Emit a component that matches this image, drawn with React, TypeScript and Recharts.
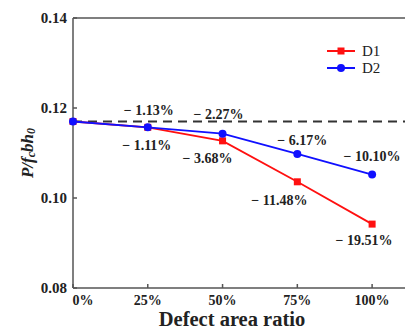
import { LineChart, Line, XAxis, YAxis, ReferenceLine, Legend, LabelList, Label } from "recharts";

const ratios = [0, 25, 50, 75, 100];
const d1 = [0.117, 0.1157, 0.1127, 0.1036, 0.0942];
const d2 = [0.117, 0.1157, 0.1143, 0.1098, 0.1052];
const d1Drop = ["", "− 1.11%", "− 3.68%", "− 11.48%", "− 19.51%"];
const d2Drop = ["", "− 1.13%", "− 2.27%", "− 6.17%", "− 10.10%"];
const yTicks = [0.08, 0.1, 0.12, 0.14];
const refLevel = 0.117;

const data = ratios.map((r, i) => ({ ratio: r, D1: d1[i], D2: d2[i], D1Label: d1Drop[i], D2Label: d2Drop[i] }));

// label nudges relative to the marker (dx, dy)
const d1Nudge = [[0, 0], [-1, 18], [-15, 18], [-18, 19], [-8, 16]];
const d2Nudge = [[0, 0], [1, -17], [-4, -19], [5, -13], [0, -18]];

const FONT = "Liberation Serif";
const RED = "#ff1010";
const BLUE = "#1010ff";
const AXIS = "#555";

const dropLabel = (nudge: number[][]) => (props: any) => {
  const { x, y, value, index } = props;
  if (!value) return null;
  const [dx, dy] = nudge[index] || [0, 0];
  return (
    <text x={x + dx} y={y + dy} textAnchor="middle" dominantBaseline="central" style={{ fontFamily: FONT, fontWeight: "bold", fontSize: 14 }} fill="#222">
      {value}
    </text>
  );
};

const Square = (props: any) => {
  const { cx, cy, index } = props;
  return <rect key={`sq-${index}`} x={cx - 3.5} y={cy - 3.5} width={7} height={7} fill={RED} />;
};

const XTick = (props: any) => {
  const { x, y, payload, index } = props;
  return (
    <text x={x + (index === 0 ? 10 : 0)} y={y} dy="0.71em" textAnchor="middle" style={{ fontFamily: FONT, fontWeight: "bold", fontSize: 14 }} fill="#222">
      {`${payload.value}%`}
    </text>
  );
};

const renderLegend = () => (
  <svg width={80} height={36} style={{ fontFamily: FONT, fontSize: 15 }}>
    <line x1={5} x2={33} y1={9} y2={9} stroke={RED} strokeWidth={2} />
    <rect x={15.5} y={5.5} width={7} height={7} fill={RED} />
    <text x={40} y={9} dominantBaseline="central" fill="#222">D1</text>
    <line x1={5} x2={33} y1={26} y2={26} stroke={BLUE} strokeWidth={2} />
    <circle cx={19} cy={26} r={4} fill={BLUE} />
    <text x={40} y={26} dominantBaseline="central" fill="#222">D2</text>
  </svg>
);

export default function App() {
  return (
    <div style={{ position: "absolute", left: 0, top: 0, width: 405, height: 334, overflow: "hidden", background: "#fff", fontFamily: FONT }}>
      <LineChart width={420} height={334} data={data} margin={{ top: 18, right: 12, bottom: 0, left: 0 }} style={{ fontFamily: FONT }}>
        <XAxis
          dataKey="ratio"
          type="number"
          domain={[0, 112]}
          ticks={ratios}
          height={46}
          tickSize={-4}
          tickMargin={11}
          tick={<XTick />}
          stroke={AXIS}
          strokeWidth={1.5}
        >
          <Label
            content={(p: any) => (
              <text x={p.viewBox.x + 159} y={p.viewBox.y + 38} textAnchor="middle" style={{ fontFamily: FONT, fontWeight: "bold", fontSize: 20.5 }} fill="#222">
                Defect area ratio
              </text>
            )}
          />
        </XAxis>
        <YAxis
          domain={[0.08, 0.14]}
          ticks={yTicks}
          width={73}
          tickSize={-4}
          tickMargin={10}
          tickFormatter={(v: number) => v.toFixed(2)}
          tick={{ style: { fontFamily: FONT, fontWeight: "bold", fontSize: 15 }, fill: "#222" }}
          stroke={AXIS}
          strokeWidth={1.5}
        >
          <Label
            content={(p: any) => {
              const cx = p.viewBox.x + 27;
              const cy = p.viewBox.y + p.viewBox.height / 2;
              return (
                <text x={cx} y={cy} transform={`rotate(-90, ${cx}, ${cy})`} textAnchor="middle" dominantBaseline="central" style={{ fontFamily: FONT, fontStyle: "italic", fontWeight: "bold", fontSize: 17 }} fill="#222">
                  P/f<tspan dy={4} fontSize={12}>c</tspan>
                  <tspan dy={-4}>bh</tspan>
                  <tspan dy={4} fontSize={12}>0</tspan>
                </text>
              );
            }}
          />
        </YAxis>
        <ReferenceLine y={0.14} stroke={AXIS} strokeWidth={1.5} />
        <ReferenceLine y={refLevel} stroke="#333" strokeWidth={2} strokeDasharray="9 6" />
        <Legend
          layout="vertical"
          align="center"
          verticalAlign="middle"
          content={renderLegend}
          wrapperStyle={{ top: 42, left: 322, width: 80 }}
        />
        <Line dataKey="D1" stroke={RED} strokeWidth={1.8} dot={<Square />} isAnimationActive={false}>
          <LabelList dataKey="D1Label" content={dropLabel(d1Nudge)} />
        </Line>
        <Line dataKey="D2" stroke={BLUE} strokeWidth={1.8} dot={{ r: 4, fill: BLUE, stroke: BLUE, strokeWidth: 0 }} isAnimationActive={false}>
          <LabelList dataKey="D2Label" content={dropLabel(d2Nudge)} />
        </Line>
      </LineChart>
    </div>
  );
}
